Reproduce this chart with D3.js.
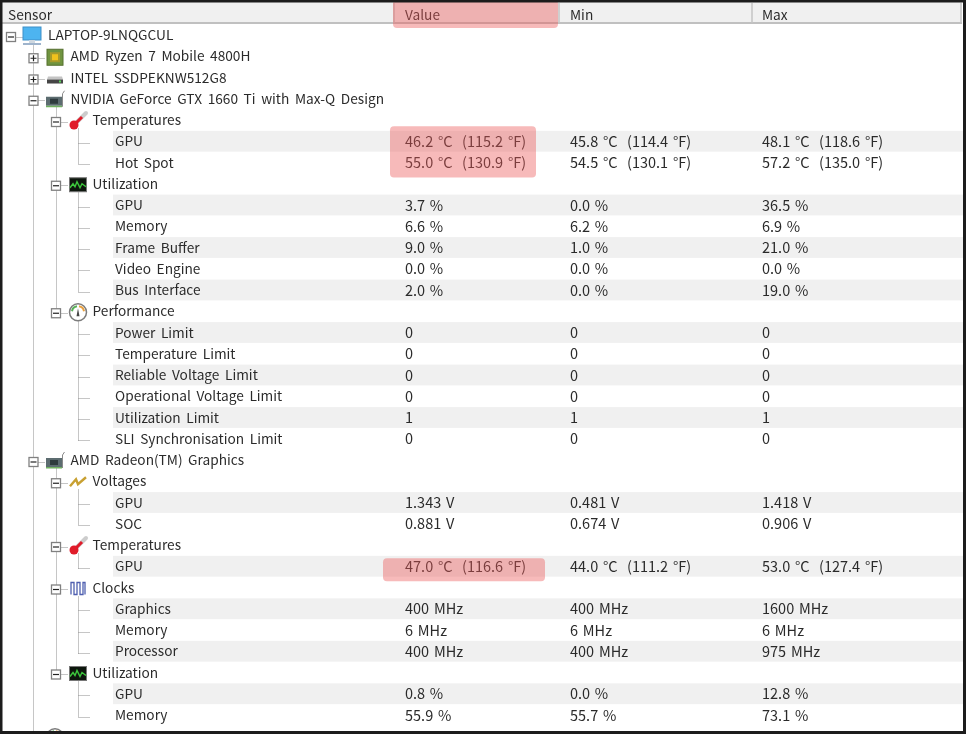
<!DOCTYPE html>
<html>
<head>
<meta charset="utf-8">
<script src="https://d3js.org/d3.v7.min.js"></script>
<style>
html, body { margin: 0; padding: 0; background: #fff; }
svg { display: block; }
text { font-family: "Noto Sans CJK KR", "Noto Sans", sans-serif; font-size: 13.7px; word-spacing: 2.5px; fill: #2c2c2c; white-space: pre; dominant-baseline: central; }
text.cell { font-size: 14.5px; word-spacing: 1.5px; }
</style>
</head>
<body>
<svg id="chart" width="966" height="734"></svg>
<script>
var columns = ["Sensor", "Value", "Min", "Max"];

var sensors = ["LAPTOP-9LNQGCUL", "AMD Ryzen 7 Mobile 4800H", "INTEL SSDPEKNW512G8", "NVIDIA GeForce GTX 1660 Ti with Max-Q Design",
  "Temperatures", "GPU", "Hot Spot",
  "Utilization", "GPU", "Memory", "Frame Buffer", "Video Engine", "Bus Interface",
  "Performance", "Power Limit", "Temperature Limit", "Reliable Voltage Limit", "Operational Voltage Limit", "Utilization Limit", "SLI Synchronisation Limit",
  "AMD Radeon(TM) Graphics",
  "Voltages", "GPU", "SOC",
  "Temperatures", "GPU",
  "Clocks", "Graphics", "Memory", "Processor",
  "Utilization", "GPU", "Memory",
  "ASUS Battery"];

var levels = [0, 1, 1, 1,
  2, 3, 3,
  2, 3, 3, 3, 3, 3,
  2, 3, 3, 3, 3, 3, 3,
  1,
  2, 3, 3,
  2, 3,
  2, 3, 3, 3,
  2, 3, 3,
  1];

var icons = ["monitor", "chip", "ssd", "gpu",
  "thermo", "", "",
  "util", "", "", "", "", "",
  "gauge", "", "", "", "", "", "",
  "gpu",
  "volt", "", "",
  "thermo", "",
  "clock", "", "", "",
  "util", "", "",
  "gauge"];

var collapsed = ["AMD Ryzen 7 Mobile 4800H", "INTEL SSDPEKNW512G8", "ASUS Battery"];

var values = ["", "", "", "",
  "", "46.2 °C  (115.2 °F)", "55.0 °C  (130.9 °F)",
  "", "3.7 %", "6.6 %", "9.0 %", "0.0 %", "2.0 %",
  "", "0", "0", "0", "0", "1", "0",
  "",
  "", "1.343 V", "0.881 V",
  "", "47.0 °C  (116.6 °F)",
  "", "400 MHz", "6 MHz", "400 MHz",
  "", "0.8 %", "55.9 %",
  ""];

var mins = ["", "", "", "",
  "", "45.8 °C  (114.4 °F)", "54.5 °C  (130.1 °F)",
  "", "0.0 %", "6.2 %", "1.0 %", "0.0 %", "0.0 %",
  "", "0", "0", "0", "0", "1", "0",
  "",
  "", "0.481 V", "0.674 V",
  "", "44.0 °C  (111.2 °F)",
  "", "400 MHz", "6 MHz", "400 MHz",
  "", "0.0 %", "55.7 %",
  ""];

var maxs = ["", "", "", "",
  "", "48.1 °C  (118.6 °F)", "57.2 °C  (135.0 °F)",
  "", "36.5 %", "6.9 %", "21.0 %", "0.0 %", "19.0 %",
  "", "0", "0", "0", "0", "1", "0",
  "",
  "", "1.418 V", "0.906 V",
  "", "53.0 °C  (127.4 °F)",
  "", "1600 MHz", "6 MHz", "975 MHz",
  "", "12.8 %", "73.1 %",
  ""];

// row index -> y centre, tree level -> x of the expander box
var y = d3.scaleLinear().domain([0, 32]).range([35, 715]);
var boxX = d3.scaleLinear().domain([0, 2]).range([11, 56]);
var textX = d3.scaleOrdinal([0, 1, 2, 3], [48, 70.5, 92.5, 115]);
var iconX = d3.scaleOrdinal([0, 1, 2], [32, 55, 78]);
var headX = d3.scaleOrdinal(columns, [0, 395, 560, 753]);
var cellX = d3.scaleOrdinal(columns, [8, 405, 570, 762]);
var rowH = y(1) - y(0);
var textDy = -0.8;

var svg = d3.select("#chart");
var soft = svg.append("defs").append("filter").attr("id", "soft");
soft.append("feGaussianBlur").attr("stdDeviation", 0.4);

var rows = sensors.map(function (s, i) { return i; });

// zebra stripes, first leaf of every group is grey
var stripes = rows.filter(function (i) {
  if (levels[i] != 3) return false;
  var n = 0;
  for (var k = i; levels[k] == 3; k--) n++;
  return n % 2 == 1;
});
svg.append("g").selectAll("rect").data(stripes).join("rect")
  .attr("x", 113).attr("width", 850)
  .attr("y", function (i) { return y(i) - rowH / 2 + 0.2; })
  .attr("height", rowH - 0.4)
  .attr("fill", "#f0f0f0");

var body = svg.append("g").attr("filter", "url(#soft)");

// tree lines: one stub per row, one vertical per parent (down to its last child)
var stubs = [];
var lastChild = new Map();
rows.forEach(function (i) {
  var lev = levels[i];
  var lineX = lev == 3 ? 78 : boxX(lev);
  var yy = Math.round(y(i) + 1.5) + 0.5;
  stubs.push([lineX, yy, lineX + 12, yy]);
  if (lev == 0) return;
  var p = i;
  while (levels[p] >= lev) p--;
  lastChild.set(p, [lineX, Math.round(y(p) + (lev == 1 ? 10 : 8)) + 0.5, lineX, yy]);
});
var treeLines = stubs.concat(Array.from(lastChild.values()));
body.append("g").selectAll("line").data(treeLines).join("line")
  .attr("x1", function (d) { return Math.floor(d[0]) + 0.5; })
  .attr("y1", function (d) { return d[1]; })
  .attr("x2", function (d) { return Math.floor(d[2]) + 0.5; })
  .attr("y2", function (d) { return d[3]; })
  .attr("stroke", "#8c8c8c")
  .attr("stroke-dasharray", "1 1");

// expander boxes
var boxes = body.append("g").selectAll("g").data(rows.filter(function (i) { return levels[i] < 3; })).join("g")
  .attr("transform", function (i) { return "translate(" + boxX(levels[i]) + "," + (y(i) + 2) + ")"; });
boxes.append("rect").attr("x", -4.5).attr("y", -4.5).attr("width", 9).attr("height", 9)
  .attr("fill", "#fff").attr("stroke", "#808080").attr("stroke-width", 1.3);
boxes.append("path")
  .attr("d", function (i) { return collapsed.indexOf(sensors[i]) >= 0 ? "M-3 0H3M0 -3V3" : "M-3 0H3"; })
  .attr("stroke", "#222").attr("stroke-width", 1.2);

// little tree icons
var drawIcon = {
  monitor: function (g) {
    g.append("rect").attr("x", -9).attr("y", -9).attr("width", 18).attr("height", 13).attr("fill", "#4db4f0").attr("stroke", "#3f8fc8");
    g.append("rect").attr("x", -3).attr("y", 4).attr("width", 6).attr("height", 3).attr("fill", "#cfd8e0");
    g.append("rect").attr("x", -9).attr("y", 7).attr("width", 18).attr("height", 2).attr("fill", "#9fb4cc");
  },
  chip: function (g) {
    g.append("rect").attr("x", -8).attr("y", -8).attr("width", 16).attr("height", 16).attr("fill", "#6f9440").attr("stroke", "#56702f");
    g.append("rect").attr("x", -5).attr("y", -5).attr("width", 10).attr("height", 10).attr("fill", "#a89a2c");
    g.append("rect").attr("x", -3).attr("y", -3).attr("width", 6).attr("height", 6).attr("fill", "#f2c21c");
  },
  ssd: function (g) {
    g.append("path").attr("d", "M-7 -2H7L8 1H-8Z").attr("fill", "#c4c4c4");
    g.append("rect").attr("x", -8).attr("y", 1).attr("width", 16).attr("height", 4).attr("fill", "#444");
    g.append("rect").attr("x", 4).attr("y", 2).attr("width", 2).attr("height", 2).attr("fill", "#5ad05a");
  },
  gpu: function (g) {
    g.append("rect").attr("x", -9).attr("y", -3).attr("width", 16).attr("height", 9).attr("fill", "#5c6c70");
    g.append("rect").attr("x", -5).attr("y", -1).attr("width", 8).attr("height", 5).attr("fill", "#2e3a3e");
    g.append("rect").attr("x", -9).attr("y", 6).attr("width", 16).attr("height", 1.5).attr("fill", "#6fb060");
    g.append("path").attr("d", "M7.5 7V-6L9.5 -9").attr("fill", "none").attr("stroke", "#8a8a8a");
  },
  thermo: function (g) {
    g.append("path").attr("d", "M-3 3L8 -8").attr("stroke", "#cccccc").attr("stroke-width", 4).attr("stroke-linecap", "round");
    g.append("path").attr("d", "M-3 3L4 -4").attr("stroke", "#e01a2a").attr("stroke-width", 3);
    g.append("circle").attr("cx", -4).attr("cy", 4).attr("r", 4.5).attr("fill", "#e01a2a");
  },
  util: function (g) {
    g.append("rect").attr("x", -8.5).attr("y", -7).attr("width", 17).attr("height", 14).attr("fill", "#10180f").attr("stroke", "#777");
    g.append("path").attr("d", "M-8 3L-5 -1L-3 2L-1 -3L2 3L4 -1L8 2").attr("fill", "none").attr("stroke", "#3cc83c").attr("stroke-width", 1.4);
  },
  gauge: function (g) {
    g.append("circle").attr("r", 8.5).attr("fill", "#fff").attr("stroke", "#7c7c7c").attr("stroke-width", 1.5);
    g.append("path").attr("d", "M-6 -1A6 6 0 0 1 -1 -6").attr("fill", "none").attr("stroke", "#58b058").attr("stroke-width", 2);
    g.append("path").attr("d", "M1 -6A6 6 0 0 1 6 -1").attr("fill", "none").attr("stroke", "#e8a040").attr("stroke-width", 2);
    g.append("path").attr("d", "M0 -4L1.5 4H-1.5Z").attr("fill", "#444");
  },
  volt: function (g) {
    g.append("path").attr("d", "M-8 4L-2 -3L0 2L8 -5").attr("fill", "none").attr("stroke", "#c8a030").attr("stroke-width", 2.4);
  },
  clock: function (g) {
    g.append("path").attr("d", "M-7 6V-6H-4V6H-1V-6H2V6H5V-6H7V6").attr("fill", "none").attr("stroke", "#5060b0").attr("stroke-width", 1.3);
  }
};
var iconRows = rows.filter(function (i) { return icons[i] != ""; });
body.append("g").selectAll("g").data(iconRows).join("g")
  .attr("transform", function (i) { return "translate(" + iconX(levels[i]) + "," + (y(i) + 1) + ")"; })
  .each(function (i) { drawIcon[icons[i]](d3.select(this)); });

// sensor names and the three value columns
body.append("g").selectAll("text").data(rows).join("text")
  .attr("x", function (i) { return textX(levels[i]); })
  .attr("y", function (i) { return y(i) + textDy; })
  .text(function (i) { return sensors[i]; });

[["Value", values], ["Min", mins], ["Max", maxs]].forEach(function (c) {
  body.append("g").selectAll("text").data(rows.filter(function (i) { return c[1][i] != ""; })).join("text")
    .attr("class", "cell")
    .attr("x", cellX(c[0]))
    .attr("y", function (i) { return y(i) + textDy; })
    .text(function (i) { return c[1][i]; });
});

// header strip
var head = svg.append("g").attr("filter", "url(#soft)");
head.append("rect").attr("x", 0).attr("y", 2).attr("width", 962).attr("height", 22).attr("fill", "#f0f0f0");
head.append("line").attr("x1", 0).attr("x2", 962).attr("y1", 23).attr("y2", 23).attr("stroke", "#c0c0c0").attr("stroke-width", 2);
head.selectAll("line.sep").data(columns.slice(1).concat(["end"])).join("line").attr("class", "sep")
  .attr("x1", function (c) { return c == "end" ? 961 : headX(c) - 1; })
  .attr("x2", function (c) { return c == "end" ? 961 : headX(c) - 1; })
  .attr("y1", 3).attr("y2", 23)
  .attr("stroke", "#c4c4c4").attr("stroke-width", 1.5);
head.selectAll("text").data(columns).join("text")
  .attr("x", function (c) { return cellX(c); })
  .attr("y", 13.5)
  .text(function (c) { return c; });

// red highlights, laid over the text
var marks = [
  { x: 393, w: 165, from: -1, to: -0.3 },
  { x: 390, w: 146, from: 5, to: 6 },
  { x: 383, w: 162, from: 25, to: 25 }
];
svg.append("g").selectAll("rect").data(marks).join("rect")
  .attr("x", function (d) { return d.x; })
  .attr("width", function (d) { return d.w; })
  .attr("y", function (d, n) { return n == 0 ? 0 : y(d.from) - (n == 2 ? 8 : 15); })
  .attr("height", function (d, n) { return n == 0 ? 28 : y(d.to) - y(d.from) + (n == 2 ? 23 : 30); })
  .attr("rx", 4)
  .attr("fill", "#eb5a5a")
  .attr("fill-opacity", 0.42);

// dark edge of the screenshot
var edges = [[0, 0, 966, 2.5], [0, 731, 966, 3], [0, 0, 2.5, 734], [963, 0, 3, 734]];
svg.append("g").selectAll("rect").data(edges).join("rect")
  .attr("x", function (d) { return d[0]; })
  .attr("y", function (d) { return d[1]; })
  .attr("width", function (d) { return d[2]; })
  .attr("height", function (d) { return d[3]; })
  .attr("fill", "#1c1c1c");
</script>
</body>
</html>
